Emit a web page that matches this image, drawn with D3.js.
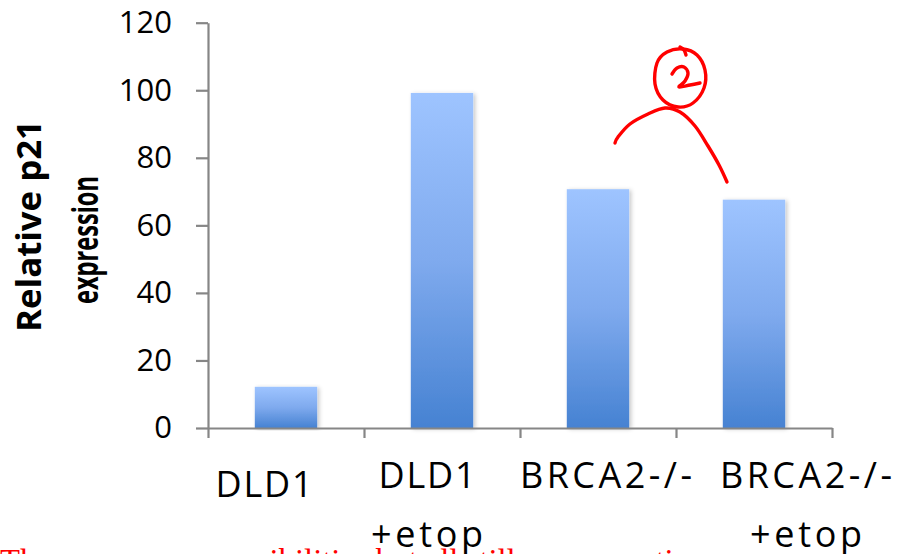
<!DOCTYPE html>
<html>
<head>
<meta charset="utf-8">
<script src="https://cdn.jsdelivr.net/npm/d3@7"></script>
<style>
  html, body { margin: 0; padding: 0; background: #fff; }
  svg { display: block; }
</style>
</head>
<body>
<script>
// ---- data ----
const categories = ["DLD1", "DLD1 +etop", "BRCA2-/-", "BRCA2-/- +etop"];
const categoryLines = [["DLD1"], ["DLD1", "+etop"], ["BRCA2-/-"], ["BRCA2-/-", "+etop"]];
const values = [12.2, 99.2, 70.7, 67.6];
const yTicks = [0, 20, 40, 60, 80, 100, 120];
const yTitleLines = ["Relative p21", "expression"];
const noteText = "These are some possibilities but all still open questions";

// ---- layout (not data) ----
const W = 907, H = 554;
const plot = { left: 208, right: 832, top: 22.7, bottom: 428 };
const labelShift = [-22, -15, 8, 52];       // horizontal shift of category labels
const labelFirstBaseline = [497, 488, 488, 488];
const labelWidths = { "DLD1": 97, "+etop": 112, "BRCA2-/-": 172 };

const svg = d3.select("body").append("svg").attr("width", W).attr("height", H);

const defs = svg.append("defs");
const grad = defs.append("linearGradient").attr("id", "barGrad")
  .attr("x1", 0).attr("y1", 0).attr("x2", 0).attr("y2", 1);
grad.append("stop").attr("offset", "0%").attr("stop-color", "#9EC4FF");
grad.append("stop").attr("offset", "50%").attr("stop-color", "#7FAAEE");
grad.append("stop").attr("offset", "100%").attr("stop-color", "#4682D2");
const shadow = defs.append("filter").attr("id", "shadow")
  .attr("x", "-20%").attr("y", "-5%").attr("width", "140%").attr("height", "110%");
shadow.append("feDropShadow").attr("dx", 2).attr("dy", 1).attr("stdDeviation", 2)
  .attr("flood-color", "#000").attr("flood-opacity", 0.22);

const x = d3.scaleBand().domain(categories).range([plot.left, plot.right])
  .paddingInner(0.6).paddingOuter(0.3);
const y = d3.scaleLinear().domain([0, 120]).range([plot.bottom, plot.top]);

// bars
svg.append("g").selectAll("rect").data(values).join("rect")
  .attr("x", (d, i) => x(categories[i]))
  .attr("y", d => y(d))
  .attr("width", x.bandwidth())
  .attr("height", d => y(0) - y(d))
  .attr("fill", "url(#barGrad)")
  .attr("filter", "url(#shadow)");

// y axis
const yAxis = svg.append("g").attr("transform", `translate(${plot.left},0)`)
  .call(d3.axisLeft(y).tickValues(yTicks).tickSize(12).tickSizeOuter(0).tickPadding(24));
yAxis.selectAll("text").attr("font-family", "'Open Sans', sans-serif")
  .attr("font-size", 31).attr("fill", "#000");

// x axis with ticks at category boundaries
const xb = d3.scaleLinear().domain([0, categories.length]).range([plot.left, plot.right]);
const xAxis = svg.append("g").attr("transform", `translate(0,${plot.bottom})`)
  .call(d3.axisBottom(xb).tickValues(d3.range(categories.length + 1))
    .tickFormat("").tickSize(10).tickSizeOuter(0));

[yAxis, xAxis].forEach(g => {
  g.select(".domain").attr("stroke", "#868686").attr("stroke-width", 2.2);
  g.selectAll(".tick line").attr("stroke", "#868686").attr("stroke-width", 2.2);
});

// y title: stretched/compressed along its direction to match the reference
yTitleLines.forEach((t, i) => {
  const pos = i === 0 ? [41, 226] : [98, 240];
  const len = i === 0 ? 212 : 128;
  const fs = i === 0 ? 33.5 : 35;
  const txt = svg.append("text")
    .attr("text-anchor", "middle")
    .attr("font-family", "'Open Sans', sans-serif")
    .attr("font-weight", "bold").attr("font-size", fs)
    .attr("fill", "#000").text(t);
  const nat = txt.node().getComputedTextLength();
  txt.attr("transform", `translate(${pos[0]},${pos[1]}) rotate(-90) scale(${len / nat},1)`);
});

// red note at bottom (partly cut off)
svg.append("text")
  .attr("x", 0).attr("y", 572)
  .attr("font-family", "'Liberation Serif', 'Times New Roman', serif")
  .attr("font-size", 32.7).attr("fill", "#FF0000")
  .text(noteText);

// category labels
categoryLines.forEach((lines, i) => {
  const cx = x(categories[i]) + x.bandwidth() / 2 + labelShift[i];
  lines.forEach((line, j) => {
    const w = labelWidths[line];
    const txt = svg.append("text")
      .attr("x", cx - w / 2)
      .attr("y", labelFirstBaseline[i] + j * 59)
      .attr("font-family", "'Open Sans', sans-serif")
      .attr("font-size", 36).attr("fill", "#000")
      .text(line);
    const nat = txt.node().getComputedTextLength();
    const n = line.length;
    if (n > 1) txt.attr("letter-spacing", (w - nat) / (n - 1));
  });
});

// hand-drawn red annotation (pixel space, not data)
const circlePts = [[683,49],[697,55],[705,70],[704,88],[693,103],[678,107],[663,100],[655,84],[657,63],[667,52]];
const twoPts = [[672,74],[677,68],[684,67],[688,73],[685,81],[679,87],[690,85],[700,83]];
const hookPts = [[680,47],[684,50],[686,55]];
const arcPts = [[615,143],[618,137],[630,124],[648,114],[665,108],[680,112],[695,126],[708,146],[719,165],[727,182]];
const ann = svg.append("g").attr("fill", "none").attr("stroke", "#FF0000")
  .attr("stroke-width", 3.4).attr("stroke-linecap", "round").attr("stroke-linejoin", "round");
ann.append("path").attr("d", d3.line().curve(d3.curveCardinalClosed)(circlePts));
ann.append("path").attr("d", d3.line().curve(d3.curveCardinal)(twoPts));
ann.append("path").attr("d", d3.line().curve(d3.curveCardinal)(hookPts));
ann.append("path").attr("d", d3.line().curve(d3.curveCardinal)(arcPts));
</script>
</body>
</html>
